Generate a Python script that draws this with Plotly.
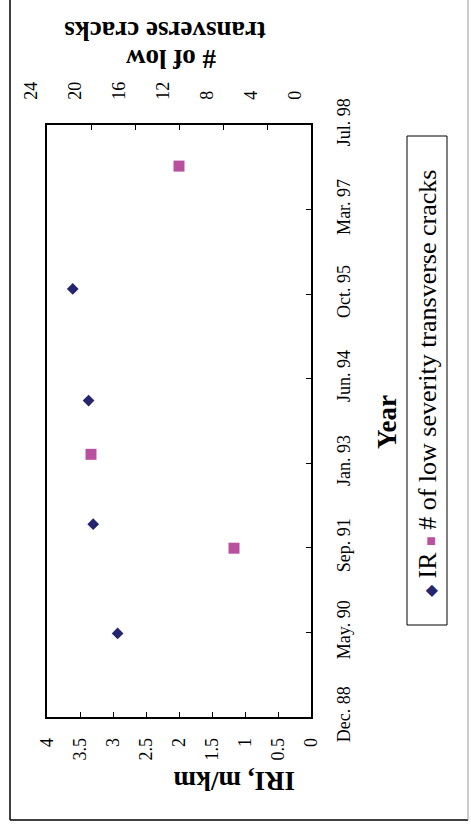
import datetime as dt
import plotly.graph_objects as go

# ---- data ----
iri_dates = ["1990-05-01", "1992-02-06", "1994-02-06", "1995-11-28"]
iri_values = [2.93, 3.30, 3.37, 3.61]

crack_dates = ["1991-09-17", "1993-03-25", "1997-11-23"]
crack_counts = [7, 20, 12]

year_tick_labels = ["Dec. 88", "May. 90", "Sep. 91", "Jan. 93",
                    "Jun. 94", "Oct. 95", "Mar. 97", "Jul. 98"]

# date axis: Excel-style serial axis starting 23 Dec 1988, major unit 500 days
axis_start = dt.date(1988, 12, 23)
step_days = 500
year_tick_vals = [(axis_start + dt.timedelta(days=step_days * k)).isoformat()
                  for k in range(len(year_tick_labels))]

# ---- page geometry (pixels) ----
W, H = 471, 825
L, R, T, B = 47, 160, 125, 108
PW, PH = W - L - R, H - T - B

FONT = "Liberation Serif, Times New Roman, serif"
NAVY = "#24246f"
MAGENTA = "#b8509f"


def px(x):
    return (x - L) / PW


def py(y):
    return (H - B - y) / PH


fig = go.Figure()

fig.add_trace(go.Scatter(
    x=iri_values, y=iri_dates, mode="markers", name="IR",
    marker=dict(symbol="diamond", size=9, color=NAVY),
    xaxis="x", yaxis="y", showlegend=False,
))
fig.add_trace(go.Scatter(
    x=crack_counts, y=crack_dates, mode="markers",
    name="# of low severity transverse cracks",
    marker=dict(symbol="square", size=11, color=MAGENTA),
    xaxis="x2", yaxis="y", showlegend=False,
))

tick_font = dict(family=FONT, size=18, color="black")

fig.update_layout(
    width=W, height=H,
    margin=dict(l=L, r=R, t=T, b=B, pad=0),
    paper_bgcolor="white", plot_bgcolor="white",
    font=dict(family=FONT, color="black"),
    xaxis=dict(
        range=[4, 0], tickvals=[i * 0.5 for i in range(9)],
        ticks="inside", ticklen=5, tickwidth=1, tickcolor="black",
        showline=True, linecolor="black", linewidth=1.5,
        showgrid=False, zeroline=False, tickangle=-90,
        tickfont=tick_font, ticklabelstandoff=12,
    ),
    xaxis2=dict(
        range=[24, 0], tickvals=list(range(0, 25, 4)), overlaying="x",
        side="top", anchor="y",
        ticks="inside", ticklen=5, tickwidth=1, tickcolor="black",
        showline=True, linecolor="black", linewidth=1.5,
        showgrid=False, zeroline=False, tickangle=-90,
        tickfont=tick_font, ticklabelshift=16, ticklabelstandoff=20,
    ),
    yaxis=dict(
        type="date", side="right",
        range=[year_tick_vals[0], year_tick_vals[-1]],
        tickvals=year_tick_vals, ticktext=year_tick_labels,
        ticks="inside", ticklen=5, tickwidth=1, tickcolor="black",
        showline=True, mirror=True, linecolor="black", linewidth=1.5,
        showgrid=False, zeroline=False, tickangle=-90,
        tickfont=tick_font, ticklabelstandoff=16,
    ),
)

title_font = dict(family=FONT, size=27, color="black", weight="bold")

annotations = [
    dict(text="IRI, m/km", x=px(234), y=py(781), textangle=180,
         font=title_font),
    dict(text="transverse cracks", x=px(165), y=py(31), textangle=180,
         font=title_font, height=24),
    dict(text="# of low", x=px(171), y=py(59), textangle=180,
         font=title_font, height=24),
    dict(text="Year", x=px(387), y=py(422), textangle=-90,
         font=title_font),
    dict(text=(f'<span style="color:{NAVY};font-size:16px">◆</span>'
               f' IR <span style="color:{MAGENTA};font-size:16px">■</span>'
               ' # of low severity transverse cracks'),
         x=px(427), y=py(384), textangle=-90,
         font=dict(family=FONT, size=26, color="black")),
]
for a in annotations:
    a.update(xref="paper", yref="paper", showarrow=False,
             xanchor="center", yanchor="middle")
fig.update_layout(annotations=annotations)

# legend frame and outer chart frame
shapes = [
    dict(type="rect", x0=px(407), x1=px(447), y0=py(625), y1=py(136),
         line=dict(color="black", width=1)),
    dict(type="line", x0=px(10), x1=px(10), y0=py(-5), y1=py(820),
         line=dict(color="black", width=1.5)),
    dict(type="line", x0=px(10), x1=px(468), y0=py(820), y1=py(820),
         line=dict(color="black", width=1.5)),
    dict(type="line", x0=px(468), x1=px(468), y0=py(-5), y1=py(820),
         line=dict(color="#9a9a9a", width=1)),
]
for s in shapes:
    s.update(xref="paper", yref="paper")
fig.update_layout(shapes=shapes)

fig.write_html("out.html")
